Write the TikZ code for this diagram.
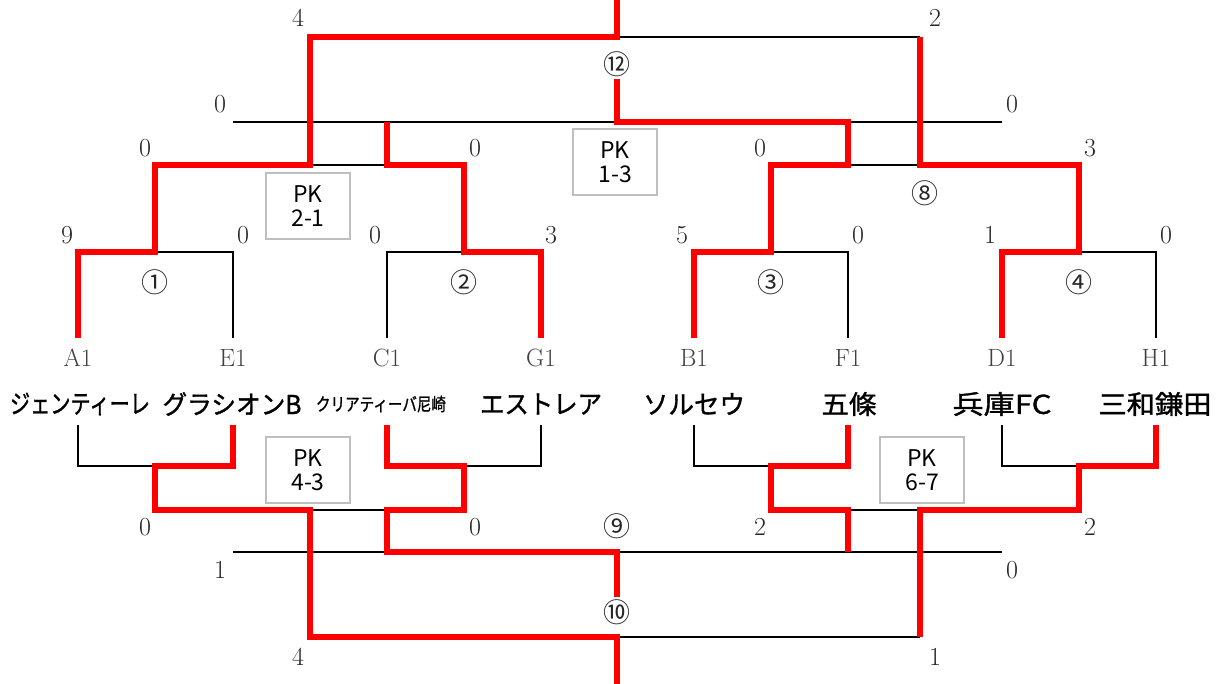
\documentclass[tikz,border=0pt]{standalone}
\usepackage{fontspec}
\usepackage{graphicx}
\newfontfamily\jpfont{Noto Sans CJK JP}
\newfontfamily\jpbold{Noto Sans CJK JP}[FakeBold=1.2]

\newdimen\namewd
\newcommand\fitname[2]{\settowidth\namewd{#2}\pgfmathsetmacro\namefac{#1/\namewd}\scalebox{\namefac}[1]{#2}}

\tikzset{
  win/.style={red, line width=6pt, line join=miter},
  lose/.style={black, line width=2.8pt},
  score/.style={font=\fontsize{26}{26}\selectfont, text=black!85, inner sep=0pt},
  code/.style={font=\fontsize{25}{25}\selectfont, text=black!75, inner sep=0pt},
  matchno/.style={font=\jpfont\fontsize{27}{27}\selectfont, text=black!85, inner sep=0pt},
  pkbox/.style={draw=black!25, fill=white, line width=1.5pt, minimum width=84pt, minimum height=66pt,
    align=center, inner sep=0pt, font=\jpfont\fontsize{23}{24}\selectfont},
  team/.style={inner sep=0pt}
}

\begin{document}
\begin{tikzpicture}[x=1pt,y=-1pt]
  \useasboundingbox (0,0) rectangle (1222,684);

  % upper bracket, losers
  \draw[lose] (233,338) -- (233,252) -- (155,252);
  \draw[lose] (387,338) -- (387,252) -- (464,252);
  \draw[lose] (848,338) -- (848,252) -- (771,252);
  \draw[lose] (1156,338) -- (1156,252) -- (1079,252);
  \draw[lose] (310,165) -- (387,165);
  \draw[lose] (848,165) -- (920,165);
  \draw[lose] (233,122) -- (1002,122);
  \draw[lose] (617,37) -- (920,37);

  % lower bracket, losers
  \draw[lose] (78,425) -- (78,466) -- (155,466);
  \draw[lose] (541,425) -- (541,466) -- (464,466);
  \draw[lose] (694,425) -- (694,466) -- (771,466);
  \draw[lose] (1002,425) -- (1002,466) -- (1079,466);
  \draw[lose] (310,510) -- (387,510);
  \draw[lose] (848,510) -- (920,510);
  \draw[lose] (233,552) -- (1002,552);
  \draw[lose] (617,637) -- (920,637);

  % upper bracket, winners
  \draw[win] (78,338) -- (78,252) -- (155,252) -- (155,165) -- (310,165) -- (310,37) -- (617,37) -- (617,0);
  \draw[win] (541,338) -- (541,252) -- (464,252) -- (464,165) -- (387,165) -- (387,122);
  \draw[win] (694,338) -- (694,252) -- (771,252) -- (771,165) -- (848,165) -- (848,122) -- (617,122) -- (617,79);
  \draw[win] (1002,338) -- (1002,252) -- (1079,252) -- (1079,165) -- (920,165) -- (920,37);

  % lower bracket, winners
  \draw[win] (233,425) -- (233,466) -- (155,466) -- (155,510) -- (310,510) -- (310,637) -- (617,637) -- (617,684);
  \draw[win] (387,425) -- (387,466) -- (464,466) -- (464,510) -- (387,510) -- (387,552) -- (617,552) -- (617,597);
  \draw[win] (848,425) -- (848,466) -- (771,466) -- (771,510) -- (848,510) -- (848,552);
  \draw[win] (1156,425) -- (1156,466) -- (1079,466) -- (1079,510) -- (920,510) -- (920,637);

  % scores
  \foreach \x/\v [count=\i] in {67/9,243/0,375/0,551/3,682/5,858/0,990/1,1166/0}
    {\node[score] (ra\i) at (\x,235) {\v};}
  \foreach \x/\y/\v [count=\i] in {145/148/0,475/148/0,760/148/0,1090/148/3,220/104/0,1012/104/0,298/18/4,935/18/2}
    {\node[score] (sa\i) at (\x,\y) {\v};}
  \foreach \x/\y/\v [count=\i] in {145/527/0,475/527/0,760/527/2,1090/527/2,220/570/1,1012/570/0,298/657/4,935/657/1}
    {\node[score] (sb\i) at (\x,\y) {\v};}

  % match numbers
  \node[matchno] (m1) at (155,282) {①};
  \node[matchno] (m2) at (464,282) {②};
  \node[matchno] (m3) at (771,282) {③};
  \node[matchno] (m4) at (1079,282) {④};
  \node[matchno] (m8) at (925,193) {⑧};
  \node[matchno] (m12) at (617,64) {⑫};
  \node[matchno] (m9) at (617,526) {⑨};
  \node[matchno] (m10) at (617,612) {⑩};

  % penalty boxes
  \node[pkbox] (pk1) at (308,206) {PK\\2-1};
  \node[pkbox] (pk2) at (615,162) {PK\\1-3};
  \node[pkbox] (pk3) at (308,470) {PK\\4-3};
  \node[pkbox] (pk4) at (922,470) {PK\\6-7};

  % teams
  \foreach \x/\c [count=\i] in {78/A1,233/E1,387/C1,541/G1,694/B1,848/F1,1002/D1,1156/H1}
    {\node[code] (c\i) at (\x,358) {\c};}
  \foreach \x/\w/\s/\n [count=\i] in {80/140/26/ジェンティーレ,232/139/26/グラシオンB,381/130/18/クリアティーバ尼崎,
      541/122/26/エストレア,694/102/26/ソルセウ,849/55/26/五條,1002/99/26/兵庫FC,1155/113/26/三和鎌田}
    {\node[team, font=\jpbold\fontsize{\s}{\s}\selectfont] (t\i) at (\x,404) {\fitname{\w}{\n}};}
\end{tikzpicture}
\end{document}
